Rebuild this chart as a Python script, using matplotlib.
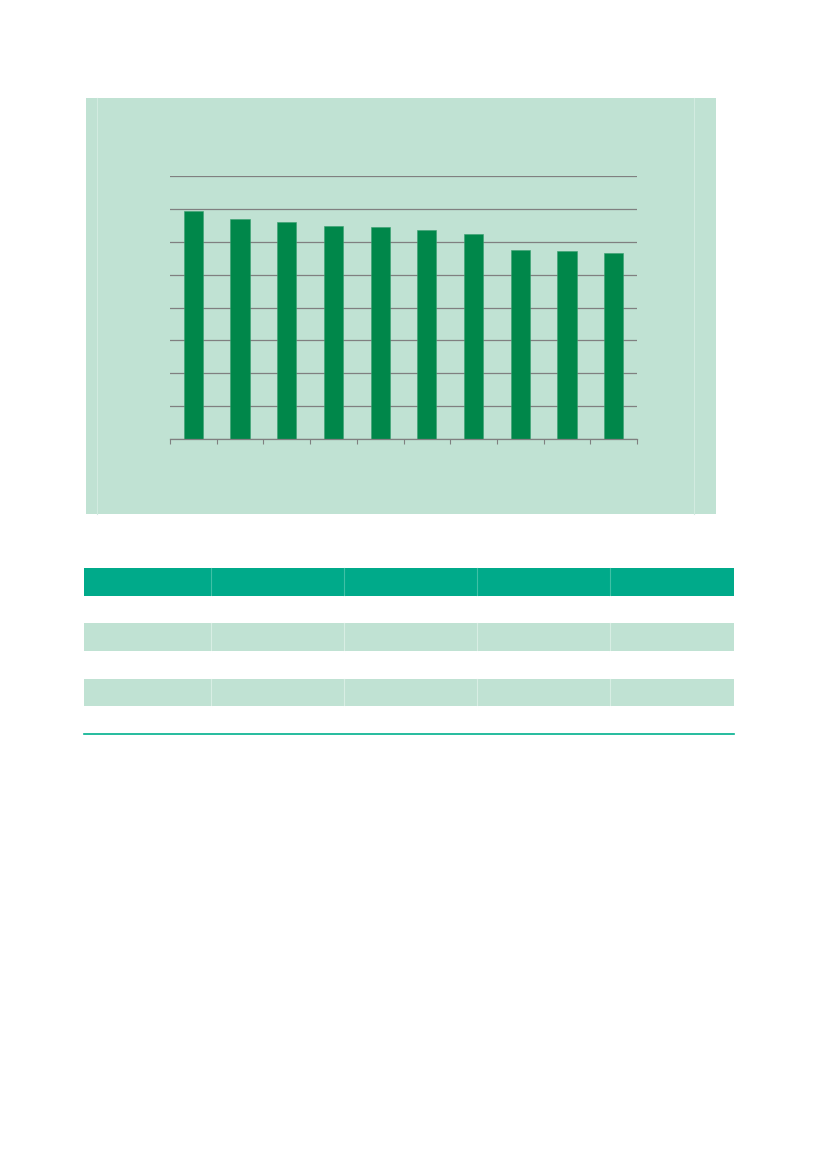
import matplotlib
matplotlib.use("Agg")
import matplotlib.pyplot as plt
from matplotlib.patches import Rectangle

# Data
categories = list(range(10))
values = [6.95, 6.69, 6.60, 6.49, 6.45, 6.36, 6.24, 5.76, 5.72, 5.66]
y_ticks = [0, 1, 2, 3, 4, 5, 6, 7, 8]

W, H = 827, 1169
fig = plt.figure(figsize=(W / 100, H / 100), dpi=100)
fig.patch.set_facecolor("white")

def fx(px):
    return px / W

def fy(py):
    return 1 - py / H

PANEL = "#c0e2d3"
BAR = "#00874a"
GRID = "#808080"

# Background axes in pixel coordinates for the panel and table
bg = fig.add_axes([0, 0, 1, 1], zorder=-5)
bg.set_xlim(0, W)
bg.set_ylim(H, 0)
bg.axis("off")
bg.add_patch(Rectangle((86, 98), 716 - 86, 514 - 98, facecolor=PANEL, edgecolor="none"))
for xx in (97, 694):
    bg.plot([xx, xx], [98, 514], color="#d2ebe0", lw=0.8)

# Empty table below
col_edges = [84, 211, 344, 477, 610, 734]
row_edges = [568, 596, 623, 651, 679, 706, 734]
row_colors = ["#00aa8a", "white", PANEL, "white", PANEL, "white"]
sep_colors = ["#40c0a6", "white", "#d8eee4", "white", "#d8eee4", "white"]
for r in range(len(row_edges) - 1):
    y0, y1 = row_edges[r], row_edges[r + 1]
    bg.add_patch(Rectangle((col_edges[0], y0), col_edges[-1] - col_edges[0], y1 - y0,
                           facecolor=row_colors[r], edgecolor="none"))
    for cx in col_edges[1:-1]:
        bg.plot([cx, cx], [y0, y1], color=sep_colors[r], lw=0.8)
bg.plot([col_edges[0], col_edges[-1]], [734, 734], color="#00b08e", lw=1.2)

# Bar chart axes
ax = fig.add_axes([fx(170), fy(439), fx(637) - fx(170), fy(176) - fy(439)], zorder=2)
ax.set_facecolor("none")
ax.bar(categories, values, width=0.41, color=BAR, edgecolor="#3aa070", linewidth=0.4, zorder=3)
ax.set_xlim(-0.5, 9.5)
ax.set_ylim(0, 8)
ax.set_yticks(y_ticks)
ax.yaxis.grid(True, color=GRID, linewidth=0.9, zorder=1)
ax.set_axisbelow(True)
ax.set_xticks([i - 0.5 for i in range(11)])
ax.tick_params(axis="x", direction="out", length=3.5, width=0.8, color=GRID,
               labelbottom=False)
ax.tick_params(axis="y", length=0, labelleft=False)
for s in ("top", "right", "left"):
    ax.spines[s].set_visible(False)
ax.spines["bottom"].set_color(GRID)
ax.spines["bottom"].set_linewidth(0.9)
ax.spines["bottom"].set_zorder(4)

fig.savefig("out.png", dpi=100)
